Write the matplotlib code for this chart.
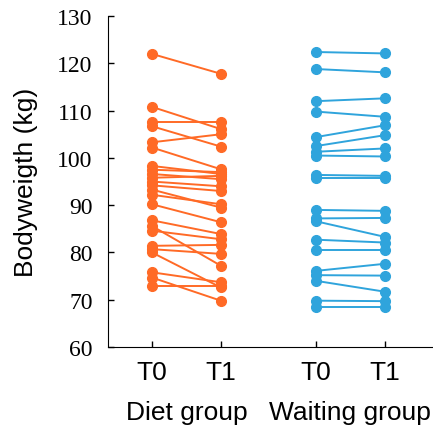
import numpy as np
import matplotlib.pyplot as plt
import matplotlib.transforms as mtransforms

# values (kg)
diet_t0 = [122.0, 110.8, 107.6, 106.7, 103.3, 102.2, 98.3, 97.5, 96.6, 95.8, 95.0, 94.2,
           93.3, 92.2, 90.2, 86.8, 85.6, 84.6, 81.4, 80.7, 80.0, 75.8, 74.7, 73.0]
diet_t1 = [117.8, 106.1, 107.6, 102.4, 105.0, 97.6, 96.6, 97.0, 95.5, 96.2, 94.0, 93.0,
           89.5, 90.2, 86.4, 83.9, 77.2, 82.8, 81.6, 79.7, 72.6, 73.7, 69.8, 73.0]
wait_t0 = [122.4, 118.8, 112.0, 109.8, 104.4, 102.5, 101.3, 100.5, 96.4, 95.8,
           89.0, 87.2, 86.6, 82.7, 80.5, 76.1, 75.2, 74.0, 69.8, 68.5]
wait_t1 = [122.1, 118.1, 112.6, 108.7, 106.9, 104.8, 102.0, 100.3, 96.2, 95.8,
           88.8, 87.3, 83.3, 82.1, 80.5, 77.6, 75.1, 71.7, 69.7, 68.5]

tick_labels = ['T0', 'T1', 'T0', 'T1']
group_labels = ['Diet group', 'Waiting group']
pos = [1, 2, 3.38, 4.38]

orange = '#FF6A26'
blue = '#2FA4DC'

fig = plt.figure(figsize=(4.33, 4.27), dpi=100)
ax = fig.add_axes([0.249, 0.185, 0.751, 0.775])

for a, b in zip(diet_t0, diet_t1):
    ax.plot([pos[0], pos[1]], [a, b], '-o', color=orange, lw=1.4, ms=7, mec=orange)
for a, b in zip(wait_t0, wait_t1):
    ax.plot([pos[2], pos[3]], [a, b], '-o', color=blue, lw=1.4, ms=7, mec=blue)

ax.set_xlim(0.36, 5.08)
ax.set_ylim(60, 130)
ax.set_yticks(np.arange(60, 131, 10))
ax.set_xticks(pos)
ax.set_xticklabels(tick_labels, fontsize=19, family='Liberation Sans')
for lab in ax.get_yticklabels():
    lab.set_family('Liberation Serif')
    lab.set_fontsize(17)
ax.tick_params(direction='in', length=4, width=1)
ax.tick_params(axis='y', pad=11)
ax.tick_params(axis='x', pad=9)
ax.spines['top'].set_visible(False)
ax.spines['right'].set_visible(False)
ax.set_ylabel('Bodyweigth (kg)', fontsize=19, family='Liberation Sans', labelpad=14)

trans = mtransforms.blended_transform_factory(ax.transData, ax.transAxes)
ax.text((pos[0] + pos[1]) / 2, -0.195, group_labels[0], transform=trans,
        ha='center', va='center', fontsize=19, family='Liberation Sans')
ax.text((pos[2] + pos[3]) / 2, -0.195, group_labels[1], transform=trans,
        ha='center', va='center', fontsize=19, family='Liberation Sans')

fig.savefig('out.png', dpi=100)
